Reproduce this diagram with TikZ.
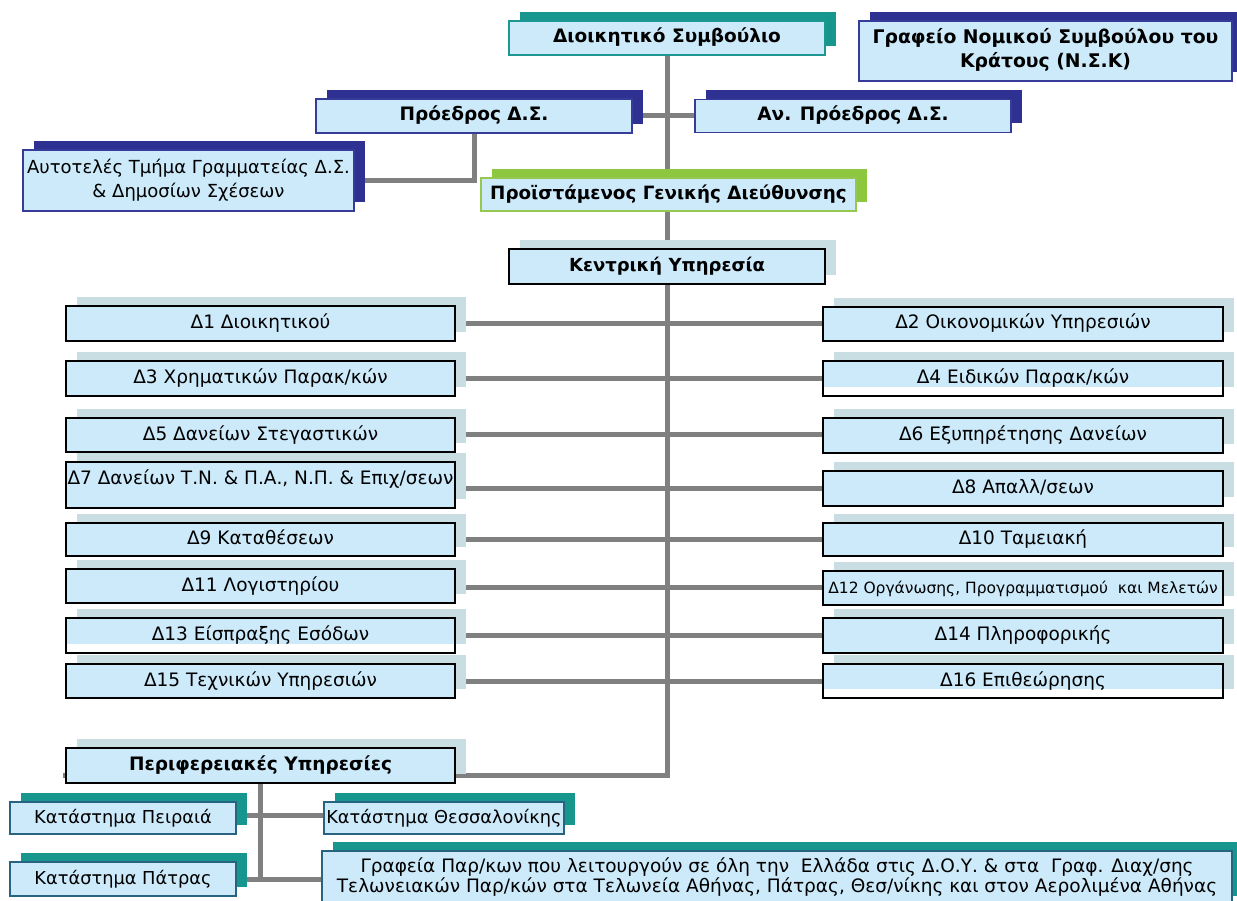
\documentclass[tikz,border=0pt]{standalone}
\usepackage{fontspec}
\setmainfont{DejaVu Sans}
\usetikzlibrary{shadows}
\pgfdeclarelayer{bg}
\pgfsetlayers{bg,main}
\definecolor{boxfill}{RGB}{204,234,250}
\definecolor{linegray}{RGB}{128,128,128}
\definecolor{tealsh}{RGB}{22,150,140}
\definecolor{tealbd}{RGB}{30,150,145}
\definecolor{navysh}{RGB}{46,49,146}
\definecolor{navybd}{RGB}{55,60,155}
\definecolor{greensh}{RGB}{141,198,63}
\definecolor{greenbd}{RGB}{150,200,80}
\definecolor{greysh}{RGB}{200,222,226}
\definecolor{stbd}{RGB}{40,100,130}
\newcommand{\twoline}[3]{\raisebox{#3}{\begin{tabular}{@{}c@{}}#1\\#2\end{tabular}}}
\begin{document}
\begin{tikzpicture}[x=1pt,y=-1pt,
  base/.style={rectangle, fill=boxfill, line width=1.6pt, inner sep=0pt, align=center, text=black},
  sh/.style={general shadow={fill=#1, shadow xshift=11pt, shadow yshift=9pt}},
  boldtxt/.style={font=\fontsize{18.5}{24}\selectfont\bfseries, text height=15pt, text depth=5pt},
  regtxt/.style={font=\fontsize{18.5}{22}\selectfont, text height=15pt, text depth=5pt},
  brtxt/.style={font=\fontsize{17.8}{22}\selectfont, text height=14.5pt, text depth=4.5pt},
  navybox/.style={base, draw=navybd, sh=navysh},
  tealtop/.style={base, draw=tealbd, sh=tealsh},
  greenbox/.style={base, draw=greenbd, sh=greensh},
  blackbox/.style={base, draw=black, sh=greysh},
  dleft/.style={blackbox, regtxt, minimum width=389pt},
  dright/.style={blackbox, regtxt, minimum width=400pt},
  branch/.style={base, draw=stbd, sh=tealsh},
  whitebot/.style={path picture={\fill[white] ([yshift=-1pt]path picture bounding box.south west) rectangle ([yshift=9pt]path picture bounding box.south east);}},
  conn/.style={draw=linegray, line width=5pt}
]
\useasboundingbox (0,0) rectangle (1237,901);

% top level
\node[tealtop, boldtxt, minimum width=316pt, minimum height=34pt] (dioik) at (667,38) {Διοικητικό Συμβούλιο};
\node[navybox, font=\fontsize{18.8}{24}\selectfont\bfseries, minimum width=373pt, minimum height=60pt] (nsk) at (1045.5,51) {\twoline{Γραφείο Νομικού Συμβούλου του}{Κράτους (Ν.Σ.Κ)}{6pt}};
\node[navybox, boldtxt, minimum width=316pt, minimum height=34pt] (proedros) at (474,116) {Πρόεδρος Δ.Σ.};
\node[navybox, boldtxt, minimum width=316pt, minimum height=33pt] (anpr) at (853,116) {Αν. Πρόεδρος Δ.Σ.};
\node[navybox, font=\fontsize{18}{24}\selectfont, minimum width=331pt, minimum height=61pt] (autotel) at (188.5,180.5) {\twoline{Αυτοτελές Τμήμα Γραμματείας Δ.Σ.}{\& Δημοσίων Σχέσεων}{3.5pt}};
\node[greenbox, boldtxt, font=\fontsize{18.3}{24}\selectfont\bfseries, minimum width=375pt, minimum height=33pt] (proist) at (668.5,194.5) {Προϊστάμενος Γενικής Διεύθυνσης};
\node[blackbox, boldtxt, font=\fontsize{18}{24}\selectfont\bfseries, minimum width=316pt, minimum height=35pt] (kentr) at (667,266.5) {Κεντρική Υπηρεσία};

% central directorates
\node[dleft, minimum height=35pt] (d1) at (260.5,323.5) {Δ1 Διοικητικού};
\node[dright, minimum height=34pt] (d2) at (1023,324) {Δ2 Οικονομικών Υπηρεσιών};
\node[dleft, minimum height=35pt] (d3) at (260.5,378.5) {Δ3 Χρηματικών Παρακ/κών};
\node[dright, whitebot, minimum height=35pt] (d4) at (1023,378.5) {Δ4 Ειδικών Παρακ/κών};
\node[dleft, minimum height=34pt] (d5) at (260.5,435) {Δ5 Δανείων Στεγαστικών};
\node[dright, minimum height=35pt] (d6) at (1023,435.5) {Δ6 Εξυπηρέτησης Δανείων};
\node[dleft, minimum height=46pt] (d7) at (260.5,485) {\raisebox{6pt}{Δ7 Δανείων Τ.Ν. \& Π.Α., Ν.Π. \& Επιχ/σεων}};
\node[dright, minimum height=35pt] (d8) at (1023,488.5) {Δ8 Απαλλ/σεων};
\node[dleft, minimum height=33pt] (d9) at (260.5,539.5) {Δ9 Καταθέσεων};
\node[dright, minimum height=33pt] (d10) at (1023,539.5) {Δ10 Ταμειακή};
\node[dleft, minimum height=34pt] (d11) at (260.5,586) {Δ11 Λογιστηρίου};
\node[dright, minimum height=34pt, font=\fontsize{15.5}{18}\selectfont] (d12) at (1023,588) {Δ12 Οργάνωσης, Προγραμματισμού\ \ και Μελετών};
\node[dleft, whitebot, minimum height=35pt] (d13) at (260.5,635.5) {Δ13 Είσπραξης Εσόδων};
\node[dright, minimum height=35pt] (d14) at (1023,635.5) {Δ14 Πληροφορικής};
\node[dleft, minimum height=34pt] (d15) at (260.5,681) {Δ15 Τεχνικών Υπηρεσιών};
\node[dright, whitebot, minimum height=34pt] (d16) at (1023,681) {Δ16 Επιθεώρησης};

% regional services
\node[blackbox, boldtxt, minimum width=389pt, minimum height=35pt] (perif) at (260.5,765.5) {Περιφερειακές Υπηρεσίες};
\node[branch, brtxt, minimum width=226pt, minimum height=32pt] (peir) at (123,818) {Κατάστημα Πειραιά};
\node[branch, brtxt, minimum width=240pt, minimum height=32pt] (thess) at (444,818) {Κατάστημα Θεσσαλονίκης};
\node[branch, brtxt, minimum width=226pt, minimum height=34pt] (patr) at (123,879) {Κατάστημα Πάτρας};
\node[branch, font=\fontsize{18.5}{19}\selectfont, minimum width=910pt, minimum height=54pt] (graf) at (777,878) {\twoline{Γραφεία Παρ/κων που λειτουργούν σε όλη την\ \ Ελλάδα στις Δ.Ο.Υ. \& στα\ \ Γραφ. Διαχ/σης}{Τελωνειακών Παρ/κών στα Τελωνεία Αθήνας, Πάτρας, Θεσ/νίκης και στον Αερολιμένα Αθήνας}{0pt}};

\coordinate (trunkend) at (dioik.south |- 0,775);
\coordinate (perifstub) at (63,775);

\begin{pgfonlayer}{bg}
  \fill[white] (0,0) rectangle (1237,901);
  \draw[conn] (dioik.south) -- (trunkend) -- (perifstub);
  \draw[conn] (proedros.east) -- (anpr.west);
  \draw[conn] (proedros.south) |- (autotel.east);
  \draw[conn] (d1.east) -- (d1.east -| d2.west);
  \draw[conn] (d3.east) -- (d3.east -| d4.west);
  \draw[conn] (d5.east |- 0,434) -- (d6.west |- 0,434);
  \draw[conn] (d7.east |- d8.west) -- (d8.west);
  \draw[conn] (d9.east) -- (d10.west);
  \draw[conn] (d11.east |- 0,587) -- (d12.west |- 0,587);
  \draw[conn] (d13.east) -- (d14.west);
  \draw[conn] (d15.east) -- (d16.west);
  \draw[conn] (perif.south) -- (perif.south |- patr.east);
  \draw[conn] (peir.east |- 0,815) -- (thess.west |- 0,815);
  \draw[conn] (patr.east) -- (patr.east -| graf.west);
\end{pgfonlayer}
\end{tikzpicture}
\end{document}
